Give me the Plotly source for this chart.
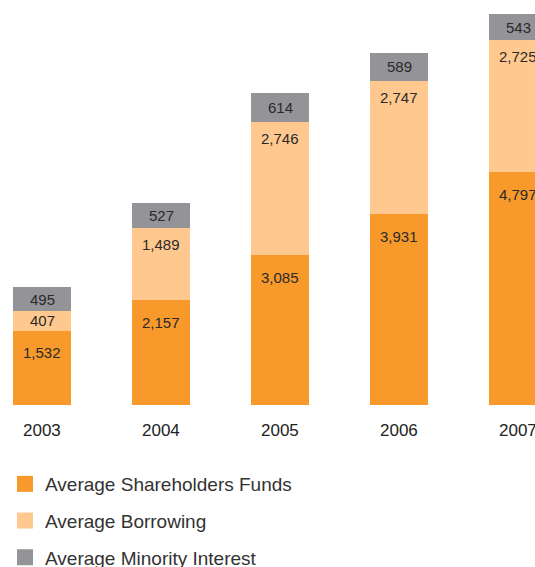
import plotly.graph_objects as go

years = ["2003", "2004", "2005", "2006", "2007"]
shareholders = [1532, 2157, 3085, 3931, 4797]
borrowing = [407, 1489, 2746, 2747, 2725]
minority = [495, 527, 614, 589, 543]

names = ["Average Shareholders Funds", "Average Borrowing", "Average Minority Interest"]
colors = ["#F7992B", "#FEC88F", "#939398"]
series = [shareholders, borrowing, minority]

FONT = "Liberation Sans, Arial, sans-serif"
xs = list(range(len(years)))

fig = go.Figure()
for name, vals, col in zip(names, series, colors):
    fig.add_trace(go.Bar(x=xs, y=vals, name=name, marker=dict(color=col, line=dict(width=0)),
                         width=0.487, showlegend=False, hoverinfo="skip"))

# labels
annotations = []
for i in xs:
    s = shareholders[i]
    annotations.append(dict(x=i, y=s, text=f"{s:,}", showarrow=False,
                            yanchor="middle", yshift=-22))
    b1 = s
    bo = borrowing[i]
    if bo < 1000:
        annotations.append(dict(x=i, y=b1 + bo / 2, text=f"{bo:,}", showarrow=False, yanchor="middle"))
    else:
        annotations.append(dict(x=i, y=b1 + bo, text=f"{bo:,}", showarrow=False, yanchor="middle", yshift=-16))
    b2 = b1 + bo
    m = minority[i]
    annotations.append(dict(x=i, y=b2 + m / 2, text=f"{m:,}", showarrow=False, yanchor="middle"))
for a in annotations:
    a["font"] = dict(family=FONT, size=15, color="#2a2a2a")
    a["xref"] = "x"
    a["yref"] = "y"

# category (year) labels below the bars
for i, yr in zip(xs, years):
    annotations.append(dict(x=i, y=0, xref="x", yref="paper", text=yr, showarrow=False,
                            yanchor="middle", yshift=-25,
                            font=dict(family=FONT, size=17, color="#222")))

# legend entries
for name, col in zip(names, colors):
    fig.add_trace(go.Scatter(x=[None], y=[None], mode="markers", name=name, legendgroup=name,
                             marker=dict(symbol="square", size=16, color=col)))

fig.update_layout(
    width=535, height=567,
    margin=dict(l=0, r=0, t=0, b=162, autoexpand=False),
    paper_bgcolor="white", plot_bgcolor="white",
    barmode="stack",
    annotations=annotations,
    xaxis=dict(range=[-42 / 119, 493 / 119], showticklabels=False,
               showgrid=False, zeroline=False, showline=False, ticks="",
               automargin=False, fixedrange=True),
    yaxis=dict(range=[0, 405 / (391 / 8065)], visible=False, showgrid=False, zeroline=False,
               automargin=False, fixedrange=True),
    showlegend=True,
    legend=dict(orientation="v", x=5 / 535, xanchor="left", xref="container",
                y=1 - 465 / 567, yanchor="top", yref="container",
                font=dict(family=FONT, size=19, color="#333"), tracegroupgap=9,
                bgcolor="rgba(0,0,0,0)"),
)
fig.write_html("out.html", config={"displayModeBar": False},
               post_script="document.body.style.margin='0';")
